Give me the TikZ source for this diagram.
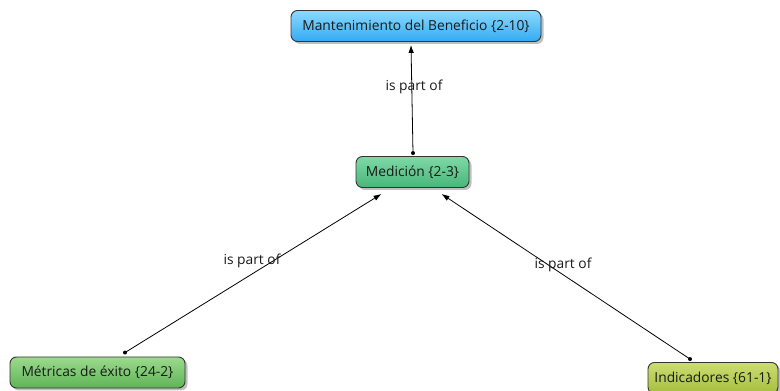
\documentclass[tikz,border=0pt]{standalone}
\usepackage{fontspec}
\setmainfont{Open Sans}
\usetikzlibrary{shadows,arrows.meta}
\definecolor{blueTop}{HTML}{8ADAFF}
\definecolor{blueBot}{HTML}{34AAF2}
\definecolor{medTop}{HTML}{7ED9A6}
\definecolor{medBot}{HTML}{48B679}
\definecolor{metTop}{HTML}{9CDA8E}
\definecolor{metBot}{HTML}{5FB457}
\definecolor{indTop}{HTML}{CCDC72}
\definecolor{indBot}{HTML}{A6BE3E}
\begin{document}
\begin{tikzpicture}[x=1pt,y=1pt,
  concept/.style={draw=black!80, line width=0.9pt, rounded corners=6.5pt,
    minimum height=31pt, inner xsep=3pt, text=black!90,
    font=\fontsize{13.8}{16}\selectfont,
    drop shadow={shadow xshift=2.5pt, shadow yshift=-2.5pt, opacity=0.5}},
  link/.style={-{Latex[length=8pt,width=5.5pt]}, line width=0.8pt},
  startdot/.style={circle, fill=black, inner sep=0pt, minimum size=4pt},
  lbl/.style={font=\fontsize{13.8}{16}\selectfont, inner sep=1pt, text=black!90}
]
\useasboundingbox (0,0) rectangle (780,391);

% concepts
\node[concept, top color=blueTop, bottom color=blueBot, minimum width=250pt]
  (mant) at (416,365) {Mantenimiento del Beneficio \{2-10\}};
\node[concept, top color=medTop, bottom color=medBot, minimum width=113pt]
  (med) at (412.5,219) {Medición \{2-3\}};
\node[concept, top color=metTop, bottom color=metBot, minimum width=175pt]
  (met) at (97.5,18.5) {Métricas de éxito \{24-2\}};
\node[concept, top color=indTop, bottom color=indBot, minimum width=130pt]
  (ind) at (713,13) {Indicadores \{61-1\}};

% link end points
\coordinate (medTopEnd) at ([xshift=0.5pt,yshift=3pt]med.north);
\coordinate (mantIn) at ([xshift=-5pt,yshift=-3pt]mant.south);
\coordinate (metOut) at ([xshift=27.5pt,yshift=4pt]met.north);
\coordinate (medInL) at ([xshift=-31pt,yshift=-6pt]med.south);
\coordinate (indOut) at ([xshift=-23pt,yshift=3pt]ind.north);
\coordinate (medInR) at ([xshift=29pt,yshift=-6pt]med.south);

% links
\draw[link] (medTopEnd) -- (mantIn);
\node[startdot] (d1) at (medTopEnd) {};
\draw[link] (metOut) -- (medInL);
\node[startdot] (d2) at (metOut) {};
\draw[link] (indOut) -- (medInR);
\node[startdot] (d3) at (indOut) {};

% link labels
\node[lbl] (l1) at (414,304) {is part of};
\node[lbl] (l2) at (252,130) {is part of};
\node[lbl] (l3) at (563,126) {is part of};
\end{tikzpicture}
\end{document}
